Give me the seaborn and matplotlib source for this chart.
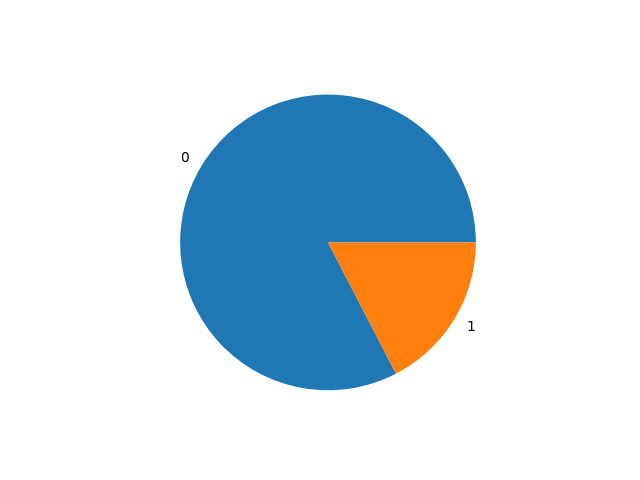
import matplotlib
matplotlib.use("Agg")
import matplotlib.pyplot as plt
import seaborn as sns

labels = ["0", "1"]
values = [0.826, 0.174]

colors = sns.color_palette("tab10", 2)
fig, ax = plt.subplots(figsize=(6.4, 4.8), dpi=100)
ax.pie(values, labels=labels, colors=colors)
fig.savefig("out.png")
